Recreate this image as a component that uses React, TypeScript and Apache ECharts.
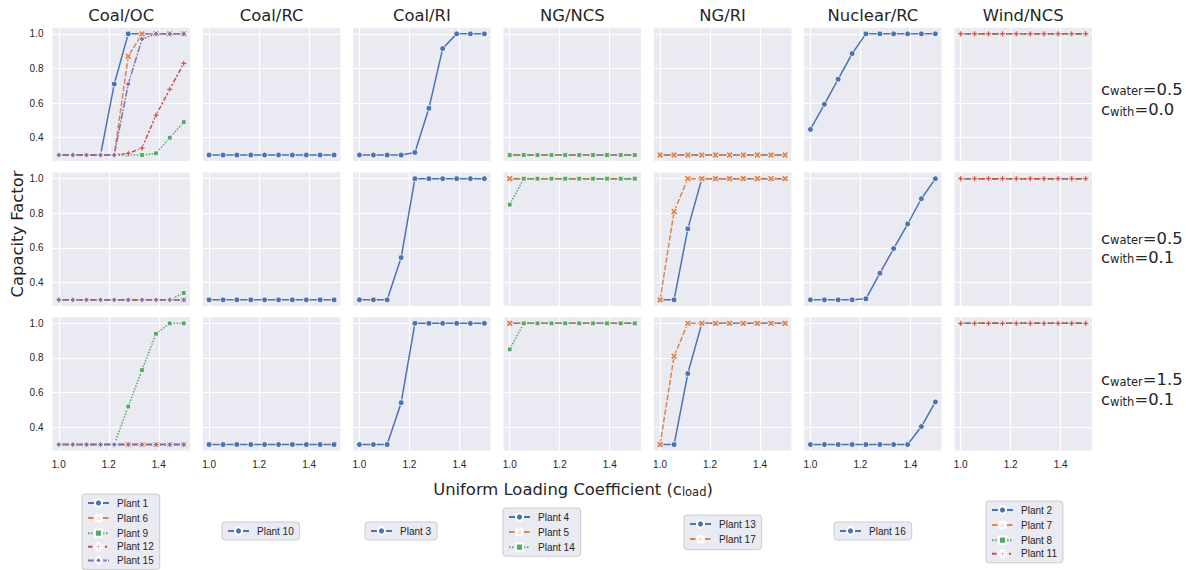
import React, { useEffect, useRef } from "react";
import * as echarts from "echarts";

// ---------------- data ----------------
const loadCoef = [1.0, 1.056, 1.111, 1.167, 1.222, 1.278, 1.333, 1.389, 1.444, 1.5];

const facetTitles = ["Coal/OC", "Coal/RC", "Coal/RI", "NG/NCS", "NG/RI", "Nuclear/RC", "Wind/NCS"];
const rowWater = ["0.5", "0.5", "1.5"];
const rowWith = ["0.0", "0.1", "0.1"];
const xTickValues = [1.0, 1.2, 1.4];
const yTickValues = [0.4, 0.6, 0.8, 1.0];

const base = [0.3, 0.3, 0.3, 0.3, 0.3, 0.3, 0.3, 0.3, 0.3, 0.3];
const full = [1, 1, 1, 1, 1, 1, 1, 1, 1, 1];

// each plant: [row1, row2, row3]
const plant1 = [[0.3, 0.3, 0.3, 0.3, 0.71, 1, 1, 1, 1, 1], base, base];
const plant6 = [[0.3, 0.3, 0.3, 0.3, 0.3, 0.87, 1, 1, 1, 1], base, base];
const plant9 = [
  [0.3, 0.3, 0.3, 0.3, 0.3, 0.3, 0.3, 0.31, 0.4, 0.49],
  [0.3, 0.3, 0.3, 0.3, 0.3, 0.3, 0.3, 0.3, 0.3, 0.34],
  [0.3, 0.3, 0.3, 0.3, 0.3, 0.52, 0.73, 0.94, 1, 1],
];
const plant12 = [[0.3, 0.3, 0.3, 0.3, 0.3, 0.31, 0.34, 0.53, 0.68, 0.83], base, base];
const plant15 = [[0.3, 0.3, 0.3, 0.3, 0.3, 0.71, 0.97, 1, 1, 1], base, base];
const plant10 = [base, base, base];
const plant3 = [
  [0.3, 0.3, 0.3, 0.3, 0.315, 0.57, 0.915, 1, 1, 1],
  [0.3, 0.3, 0.3, 0.544, 1, 1, 1, 1, 1, 1],
  [0.3, 0.3, 0.3, 0.542, 1, 1, 1, 1, 1, 1],
];
const plant4 = [base, full, full];
const plant5 = [base, full, full];
const plant14 = [
  base,
  [0.85, 1, 1, 1, 1, 1, 1, 1, 1, 1],
  [0.85, 1, 1, 1, 1, 1, 1, 1, 1, 1],
];
const plant13 = [
  base,
  [0.3, 0.3, 0.71, 1, 1, 1, 1, 1, 1, 1],
  [0.3, 0.3, 0.71, 1, 1, 1, 1, 1, 1, 1],
];
const plant17 = [
  base,
  [0.3, 0.81, 1, 1, 1, 1, 1, 1, 1, 1],
  [0.3, 0.81, 1, 1, 1, 1, 1, 1, 1, 1],
];
const plant16 = [
  [0.448, 0.593, 0.738, 0.886, 1, 1, 1, 1, 1, 1],
  [0.3, 0.3, 0.3, 0.3, 0.306, 0.454, 0.596, 0.738, 0.884, 1],
  [0.3, 0.3, 0.3, 0.3, 0.3, 0.3, 0.3, 0.3, 0.404, 0.546],
];
const plant2 = [full, full, full];
const plant7 = [full, full, full];
const plant8 = [full, full, full];
const plant11 = [full, full, full];

const columnPlants: [string, number[][]][][] = [
  [["Plant 1", plant1], ["Plant 6", plant6], ["Plant 9", plant9], ["Plant 12", plant12], ["Plant 15", plant15]],
  [["Plant 10", plant10]],
  [["Plant 3", plant3]],
  [["Plant 4", plant4], ["Plant 5", plant5], ["Plant 14", plant14]],
  [["Plant 13", plant13], ["Plant 17", plant17]],
  [["Plant 16", plant16]],
  [["Plant 2", plant2], ["Plant 7", plant7], ["Plant 8", plant8], ["Plant 11", plant11]],
];

// ---------------- style ----------------
const palette = ["#4C72B0", "#DD8452", "#55A868", "#C44E52", "#8172B3"];
const plusPath =
  "path://M-1,-0.32L-0.32,-0.32L-0.32,-1L0.32,-1L0.32,-0.32L1,-0.32L1,0.32L0.32,0.32L0.32,1L-0.32,1L-0.32,0.32L-1,0.32Z";
const markerSymbols = ["circle", plusPath, "rect", plusPath, "diamond"];
const markerRotate = [0, 45, 0, 0, 0];
const markerSizes = [5.8, 7.5, 4.8, 6.2, 5.8];
const dashes: any[] = ["solid", [5.5, 2], [1.5, 1.5], [4.5, 1.9, 2.2, 1.9], [7, 1.5, 1.5, 1.5]];

const GL = 52.5;
const GSX = 150.33;
const GW = 137.5;
const GT = [27.8, 172.6, 317.3];
const GH = 133.3;

const legLeft = [82, 222, 365, 503, 684, 834, 986];
const legTop = [494, 522, 522, 508, 515, 522, 501];

const TXT = "#262626";
const BIG = "DejaVu Sans";
const SMALL = "Liberation Sans, Arial";

function buildOption() {
  const grid: any[] = [];
  const xAxis: any[] = [];
  const yAxis: any[] = [];
  const series: any[] = [];
  for (let r = 0; r < 3; r++) {
    for (let c = 0; c < 7; c++) {
      const idx = r * 7 + c;
      grid.push({
        left: GL + c * GSX,
        top: GT[r],
        width: GW,
        height: GH,
        show: true,
        backgroundColor: "#EAEAF2",
        borderWidth: 0,
      });
      xAxis.push({
        type: "value",
        gridIndex: idx,
        min: 0.975,
        max: 1.525,
        splitNumber: 3,
        minInterval: 0.2,
        maxInterval: 0.2,
        axisLine: { show: false },
        axisTick: { show: false },
        splitLine: { show: true, showMinLine: false, showMaxLine: false, lineStyle: { color: "#ffffff", width: 1.2 } },
        axisLabel: {
          show: r === 2,
          showMinLabel: false,
          showMaxLabel: false,
          fontSize: 10,
          color: TXT,
          fontFamily: SMALL,
          margin: 9,
          formatter: (v: number) => (xTickValues.some((t) => Math.abs(t - v) < 1e-6) ? v.toFixed(1) : ""),
        },
      });
      yAxis.push({
        type: "value",
        gridIndex: idx,
        min: 0.265,
        max: 1.035,
        splitNumber: 4,
        minInterval: 0.2,
        maxInterval: 0.2,
        axisLine: { show: false },
        axisTick: { show: false },
        splitLine: { show: true, showMinLine: false, showMaxLine: false, lineStyle: { color: "#ffffff", width: 1.2 } },
        axisLabel: {
          show: c === 0,
          showMinLabel: false,
          showMaxLabel: false,
          fontSize: 10,
          color: TXT,
          fontFamily: SMALL,
          margin: 9,
          formatter: (v: number) => (yTickValues.some((t) => Math.abs(t - v) < 1e-6) ? v.toFixed(1) : ""),
        },
      });
      columnPlants[c].forEach(([name, rows], k) => {
        const vals = rows[r];
        series.push({
          type: "line",
          name,
          xAxisIndex: idx,
          yAxisIndex: idx,
          data: loadCoef.map((x, i) => [x, vals[i]]),
          symbol: markerSymbols[k],
          symbolRotate: markerRotate[k],
          symbolSize: markerSizes[k],
          showAllSymbol: true,
          lineStyle: { color: palette[k], width: 1.5, type: dashes[k] },
          itemStyle: { color: palette[k], borderColor: "#ffffff", borderWidth: 0.8 },
          emphasis: { disabled: true },
        });
      });
    }
  }

  const legend = columnPlants.map((plants, c) => ({
    data: plants.map((p) => p[0]),
    orient: "vertical",
    left: legLeft[c],
    top: legTop[c],
    height: 100,
    itemWidth: 21,
    itemHeight: 9,
    itemGap: 3.6,
    padding: [4, 6, 4, 5],
    backgroundColor: "#EAEAF2",
    borderColor: "#CCCCCC",
    borderWidth: 1,
    borderRadius: 3,
    selectedMode: false,
    textStyle: { fontSize: 10, lineHeight: 10, color: TXT, fontFamily: SMALL, padding: [0, 0, 0, 3] },
  }));

  const mainRich = { fontSize: 16.4, fontFamily: BIG, fill: TXT, color: TXT, lineHeight: 20, verticalAlign: "bottom" };
  const subRich = { fontSize: 11.5, fontFamily: BIG, fill: TXT, color: TXT, lineHeight: 11, verticalAlign: "bottom" };
  const rich = { m: mainRich, s: subRich };

  const graphic: any[] = [];
  facetTitles.forEach((t, c) => {
    graphic.push({
      type: "text",
      x: GL + c * GSX + GW / 2,
      y: 15,
      style: { text: t, fontSize: 16.4, fontFamily: BIG, fill: TXT, align: "center", verticalAlign: "middle" },
    });
  });
  const rowLineY = [
    [87, 107.5],
    [236, 255],
    [377.5, 397.5],
  ];
  for (let r = 0; r < 3; r++) {
    graphic.push({
      type: "text",
      x: 1101,
      y: rowLineY[r][0],
      style: { text: `{m|c}{s|water}{m|=${rowWater[r]}}`, rich, align: "left", verticalAlign: "middle" },
    });
    graphic.push({
      type: "text",
      x: 1101,
      y: rowLineY[r][1],
      style: { text: `{m|c}{s|with}{m|=${rowWith[r]}}`, rich, align: "left", verticalAlign: "middle" },
    });
  }
  graphic.push({
    type: "text",
    x: 573,
    y: 487.5,
    style: {
      text: "{m|Uniform Loading Coefficient (c}{s|load}{m|)}",
      rich,
      align: "center",
      verticalAlign: "middle",
    },
  });
  graphic.push({
    type: "text",
    x: 17,
    y: 234,
    rotation: Math.PI / 2,
    style: { text: "Capacity Factor", fontSize: 16.4, fontFamily: BIG, fill: TXT, align: "center", verticalAlign: "middle" },
  });

  return {
    animation: false,
    backgroundColor: "#ffffff",
    grid,
    xAxis,
    yAxis,
    series,
    legend,
    graphic,
  };
}

export default function App() {
  const ref = useRef<HTMLDivElement>(null);
  useEffect(() => {
    const chart = echarts.init(ref.current!, null, { renderer: "svg" });
    chart.setOption(buildOption() as any);
    return () => chart.dispose();
  }, []);
  return (
    <div
      ref={ref}
      style={{ position: "fixed", left: 0, top: 0, width: 1186, height: 570, background: "#fff" }}
    />
  );
}
